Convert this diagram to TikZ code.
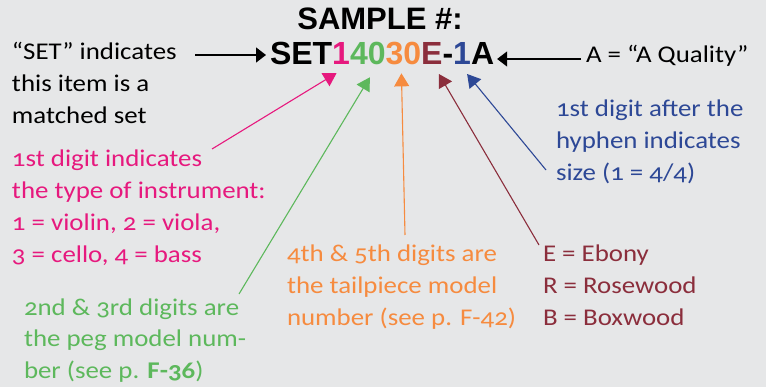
\documentclass[tikz,border=0pt]{standalone}
\usepackage{fontspec}
\setmainfont{Carlito}[Numbers=OldStyle,FakeStretch=1.12]
\newfontfamily\headfont{Liberation Sans}
\usepackage{tikz}
\usetikzlibrary{arrows.meta,positioning}

\definecolor{bgrey}{HTML}{E6E7E8}
\definecolor{pinkc}{HTML}{E6197E}
\definecolor{greenc}{HTML}{5DB85C}
\definecolor{orangec}{HTML}{F68B3F}
\definecolor{maroonc}{HTML}{8B2E3C}
\definecolor{bluec}{HTML}{2D4896}

\begin{document}
\begin{tikzpicture}[
    x=1pt, y=-1pt,
    every node/.style={inner sep=0pt, outer sep=0pt},
    note/.style={font=\fontsize{24}{31.7}\selectfont, align=left, anchor=base west},
    code/.style={font=\headfont\bfseries\fontsize{32}{36}\selectfont, anchor=base west},
    pointer/.style={-{Triangle[length=10pt,width=15pt]}, line width=1.4pt},
    hint/.style={-{Triangle[length=13pt,width=15pt]}, line width=1.1pt}
]

\fill[bgrey] (0,0) rectangle (766,387);
\useasboundingbox (0,0) rectangle (766,387);

% title and sample number
\node[font=\headfont\bfseries\fontsize{31}{36}\selectfont, anchor=base] (title) at (380,30) {SAMPLE \#:};

\node[code] (set) at (270,65) {SET};
\node[code, text=pinkc, base right=0pt of set] (kind) {1};
\node[code, text=greenc, base right=0pt of kind] (pegs) {40};
\node[code, text=orangec, base right=0pt of pegs] (tail) {30};
\node[code, text=maroonc, base right=0pt of tail] (wood) {E};
\node[code, base right=0pt of wood] (hyph) {-};
\node[code, text=bluec, base right=0pt of hyph] (size) {1};
\node[code, base right=0pt of size] (qual) {A};

% explanations (placed at the baseline of their last line)
\node[note] (settxt) at (12,123.4) {“SET” indicates\\this item is a\\matched set};
\node[note] (qualtxt) at (586,63) {A = “A Quality”};
\node[note, text=bluec] (sizetxt) at (556,180.4) {1st digit after the\\hyphen indicates\\size (1 = 4/4)};
\node[note, text=pinkc] (kindtxt) at (12,262.1) {1st digit indicates\\the type of instrument:\\1 = violin, 2 = viola,\\3 = cello, 4 = bass};
\node[note, text=greenc] (pegtxt) at (24,378.4) {2nd \& 3rd digits are\\the peg model num-\\ber (see p. \textbf{F-36})};
\node[note, text=orangec] (tailtxt) at (287,325.4) {4th \& 5th digits are\\the tailpiece model\\number (see p. F-42)};
\node[note, text=maroonc] (woodtxt) at (543,325.4) {E = Ebony\\R = Rosewood\\B = Boxwood};

% free ends of the pointers
\coordinate (setfrom) at (195,55);
\coordinate (qualfrom) at (581,59);
\coordinate (kindfrom) at (212,149);
\coordinate (pegfrom) at (239,294);
\coordinate (tailfrom) at (405,235);
\coordinate (woodfrom) at (539,245);
\coordinate (sizefrom) at (546,170);

\draw[pointer] (setfrom) -- ([xshift=-4pt]setfrom -| set.west);
\draw[pointer] (qualfrom) -- ([xshift=3pt]qualfrom -| qual.east);
\draw[hint, pinkc] (kindfrom) -- ([xshift=-4.5pt, yshift=-8pt]kind.south);
\draw[hint, greenc] (pegfrom) -- ([xshift=2pt, yshift=-12pt]pegs.south);
\draw[hint, orangec] (tailfrom) -- ([xshift=-2pt, yshift=-8pt]tail.south);
\draw[hint, maroonc] (woodfrom) -- ([xshift=7pt, yshift=-9pt]wood.south);
\draw[hint, bluec] (sizefrom) -- ([xshift=5pt, yshift=-9pt]size.south);

\end{tikzpicture}
\end{document}
